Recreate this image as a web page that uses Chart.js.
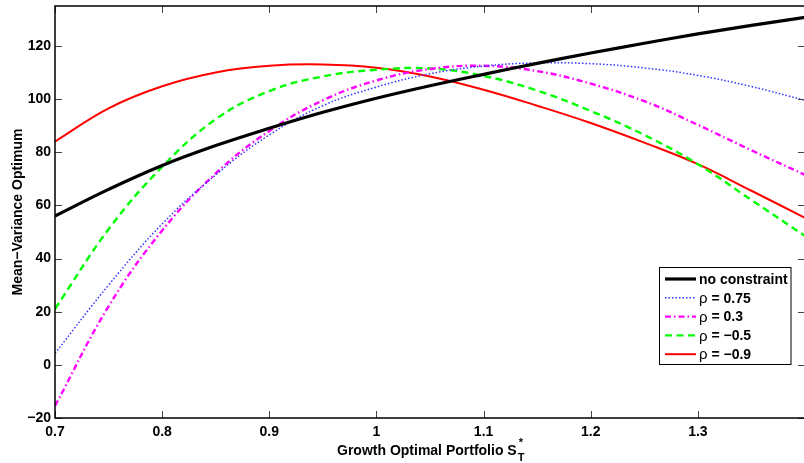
<!DOCTYPE html>
<html lang="en">
<head>
  <meta charset="UTF-8">
  <title>Mean-Variance Optimum</title>
  <script src="https://cdn.jsdelivr.net/npm/chart.js"></script>
  <style>
    html, body { margin: 0; padding: 0; overflow: hidden; background: #fff; }
    #wrap { position: relative; width: 806px; height: 463px; }
  </style>
</head>
<body>
  <div id="wrap"><canvas id="chart"></canvas></div>
  <script>
    // values
    var xs = [0.7, 0.75, 0.8, 0.85, 0.9, 0.95, 1.0, 1.05, 1.1, 1.15, 1.2, 1.25, 1.3, 1.35, 1.4];
    var noConstraint = [56, 66, 75, 82.5, 89, 95, 100.3, 105, 109.3, 113.4, 117.3, 121, 124.5, 127.7, 130.7];
    var rho075 = [4.3, 30, 53, 71.5, 86.5, 97.5, 104.5, 109.5, 112.4, 113.6, 113.3, 111.7, 108.9, 104.7, 99.5];
    var rho03 = [-15.5, 22, 50.5, 72, 88, 99.5, 107, 111.3, 112.5, 110.5, 105.8, 99.2, 90.3, 80.7, 71.5];
    var rhoM05 = [21, 51, 74.5, 92.4, 103, 108.5, 111, 111.5, 108.7, 103.2, 95.5, 86.5, 75.5, 62, 48.5];
    var rhoM09 = [84, 96.5, 104.8, 110, 112.5, 113, 111.8, 108.5, 103.5, 97.5, 91, 83.6, 75.5, 65.5, 55.3];

    var seriesNames = ['no constraint', '\u03c1 = 0.75', '\u03c1 = 0.3', '\u03c1 = \u22120.5', '\u03c1 = \u22120.9'];
    var xTicks = [0.7, 0.8, 0.9, 1.0, 1.1, 1.2, 1.3];
    var yTicks = [-20, 0, 20, 40, 60, 80, 100, 120];

    var FONT = "'Liberation Sans', Arial, sans-serif";

    function pts(ys) {
      return xs.map(function(x, i) { return { x: x, y: ys[i] }; });
    }
    function fmt(v) {
      var s = String(Math.round(v * 10) / 10);
      return v < 0 ? '\u2212' + s.slice(1) : s;
    }

    var frame = {
      id: 'frame',
      afterDraw: function(chart) {
        var c = chart.ctx, a = chart.chartArea;
        var sx = chart.scales.x, sy = chart.scales.y;
        c.save();

        // inward ticks on all four sides
        c.strokeStyle = '#444';
        c.lineWidth = 1;
        c.beginPath();
        xTicks.forEach(function(v) {
          var px = Math.round(sx.getPixelForValue(v)) + 0.5;
          c.moveTo(px, a.bottom); c.lineTo(px, a.bottom - 7);
          c.moveTo(px, a.top); c.lineTo(px, a.top + 7);
        });
        yTicks.forEach(function(v) {
          var py = Math.round(sy.getPixelForValue(v)) + 0.5;
          c.moveTo(a.left, py); c.lineTo(a.left + 7, py);
          c.moveTo(a.right, py); c.lineTo(a.right - 7, py);
        });
        c.stroke();

        // axes box
        c.strokeStyle = '#000';
        c.lineWidth = 1.5;
        c.strokeRect(a.left, a.top, a.right - a.left, a.bottom - a.top);

        // legend
        var lx = 659.5, ly = 267.5, lw = 131.5, lh = 97;
        c.fillStyle = '#fff';
        c.fillRect(lx, ly, lw, lh);
        c.lineWidth = 1;
        c.strokeStyle = '#000';
        c.strokeRect(lx, ly, lw, lh);
        chart.data.datasets.forEach(function(ds, i) {
          var y = 279 + i * 18.8;
          c.save();
          c.strokeStyle = ds.borderColor;
          c.lineWidth = ds.borderWidth;
          c.setLineDash(ds.borderDash || []);
          c.beginPath();
          c.moveTo(665, y); c.lineTo(696, y);
          c.stroke();
          c.restore();
          c.fillStyle = '#000';
          c.textBaseline = 'middle';
          c.textAlign = 'left';
          var name = seriesNames[i];
          var tx = 699;
          if (name.charAt(0) === '\u03c1') {
            c.font = '15px ' + FONT;
            c.fillText('\u03c1', tx, y + 1);
            tx += c.measureText('\u03c1').width;
            name = name.slice(1);
          }
          c.font = 'bold 14px ' + FONT;
          c.fillText(name, tx, y + 1);
        });

        // x axis title with S_T^*
        c.fillStyle = '#000';
        c.textBaseline = 'alphabetic';
        c.textAlign = 'left';
        c.font = 'bold 14px ' + FONT;
        var t = 'Growth Optimal Portfolio S';
        c.fillText(t, 337, 455);
        var ex = 337 + c.measureText(t).width + 1;
        c.font = 'bold 11px ' + FONT;
        c.fillText('T', ex, 461);
        c.fillText('*', ex + 1, 446);

        // y axis title
        c.translate(22, 212);
        c.rotate(-Math.PI / 2);
        c.textAlign = 'center';
        c.font = 'bold 14px ' + FONT;
        c.fillText('Mean\u2212Variance Optimum', 0, 0);
        c.restore();
      }
    };

    var ctx = document.getElementById('chart').getContext('2d');
    var chart = new Chart(ctx, {
      type: 'line',
      data: {
        datasets: [
          { label: seriesNames[0], data: pts(noConstraint), borderColor: '#000000', borderWidth: 3.2 },
          { label: seriesNames[1], data: pts(rho075), borderColor: '#3333ff', borderWidth: 1.5, borderDash: [1.5, 2] },
          { label: seriesNames[2], data: pts(rho03), borderColor: '#ff00ff', borderWidth: 2.4, borderDash: [6, 3, 1.5, 3] },
          { label: seriesNames[3], data: pts(rhoM05), borderColor: '#00ff00', borderWidth: 2.4, borderDash: [7, 4.5] },
          { label: seriesNames[4], data: pts(rhoM09), borderColor: '#ff0000', borderWidth: 2 }
        ]
      },
      options: {
        responsive: true,
        maintainAspectRatio: false,
        animation: false,
        layout: { padding: { top: 6, right: 1, left: 0, bottom: 0 } },
        elements: {
          point: { radius: 0 },
          line: { tension: 0.4, fill: false }
        },
        plugins: {
          legend: { display: false },
          tooltip: { enabled: false }
        },
        scales: {
          x: {
            type: 'linear',
            min: 0.7,
            max: 1.4,
            afterFit: function(s) {
              s.height = 45;
              s.paddingLeft = 0; s.paddingRight = 0;
            },
            afterBuildTicks: function(s) { s.ticks = xTicks.map(function(v) { return { value: v }; }); },
            grid: { display: false, drawTicks: false },
            border: { display: false },
            ticks: {
              padding: 6,
              color: '#000',
              maxRotation: 0,
              font: { family: FONT, size: 14, weight: 'bold' },
              callback: function(v) { return fmt(v); }
            }
          },
          y: {
            min: -20,
            max: 135,
            afterFit: function(s) {
              s.width = 55;
              s.paddingTop = 0; s.paddingBottom = 0;
            },
            afterBuildTicks: function(s) { s.ticks = yTicks.map(function(v) { return { value: v }; }); },
            grid: { display: false, drawTicks: false },
            border: { display: false },
            ticks: {
              padding: 4,
              color: '#000',
              font: { family: FONT, size: 14, weight: 'bold' },
              callback: function(v) { return fmt(v); }
            }
          }
        }
      },
      plugins: [frame]
    });
  </script>
</body>
</html>
